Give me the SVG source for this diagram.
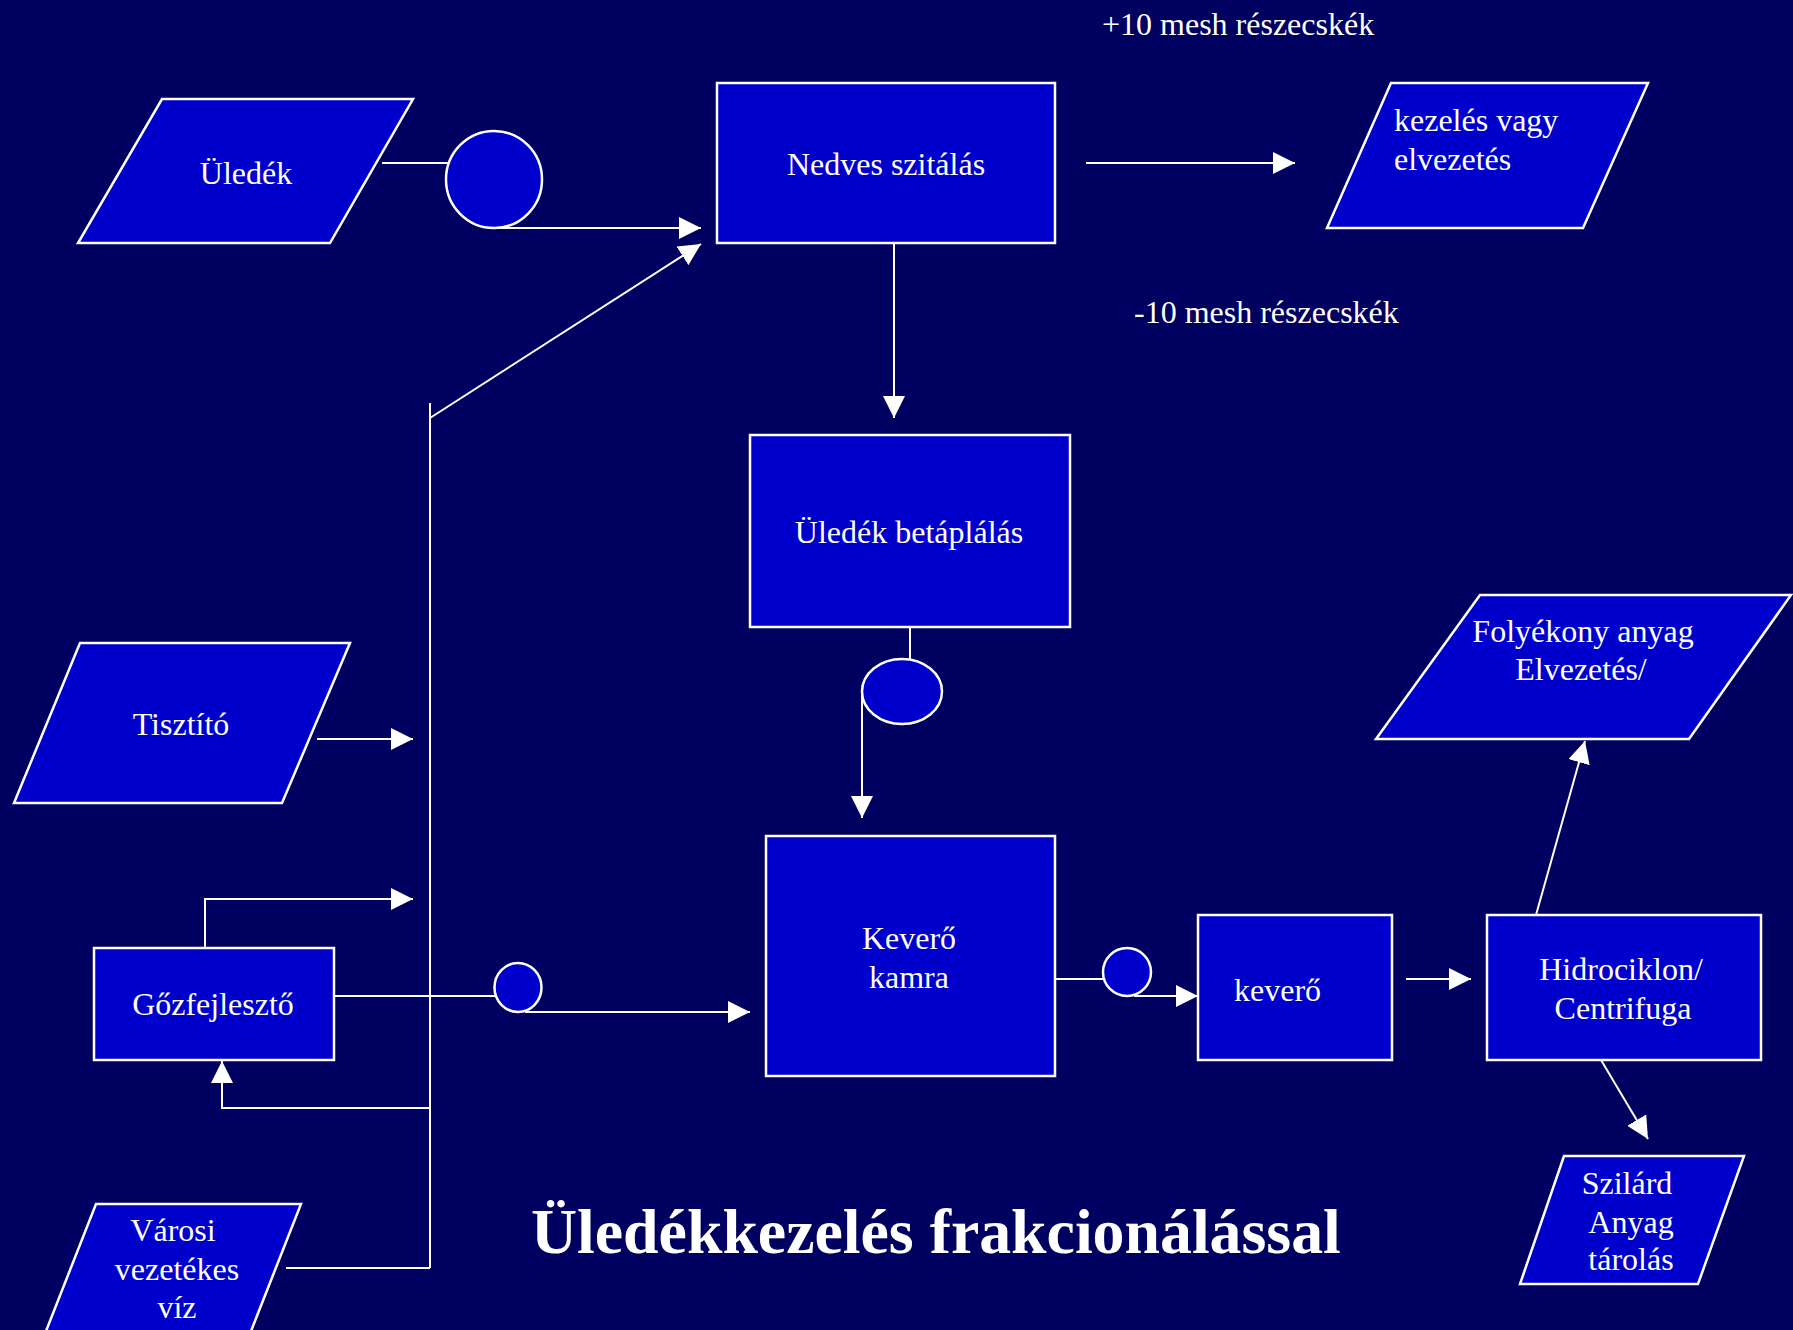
<svg xmlns="http://www.w3.org/2000/svg" width="1793" height="1330" viewBox="0 0 1793 1330">
<style>
.shape{fill:#0000CC;stroke:#FFFFFF;stroke-width:2.5}
.conn{fill:none;stroke:#FFFFFF;stroke-width:2}
.t{font-family:"Liberation Serif","Times New Roman",serif;font-size:32px;fill:#FFFFFF}
.m{text-anchor:middle}
.title{font-family:"Liberation Serif","Times New Roman",serif;font-size:63.8px;font-weight:bold;fill:#FFFFFF}
</style>
<defs>
<marker id="ah" markerUnits="userSpaceOnUse" markerWidth="22" markerHeight="22" viewBox="0 0 20 20" refX="20" refY="10" orient="auto">
<path d="M0,0 L20,10 L0,20 z" fill="#FFFFFF"/>
</marker>
</defs>
<rect x="0" y="0" width="1793" height="1330" fill="#000060"/>

<g id="connectors">
<line class="conn" x1="382" y1="163" x2="448" y2="163"/>
<line class="conn" x1="494" y1="228" x2="701" y2="228" marker-end="url(#ah)"/>
<polyline class="conn" points="430,1268 430,403"/>
<line class="conn" x1="430" y1="418" x2="701" y2="244" marker-end="url(#ah)"/>
<line class="conn" x1="894" y1="243" x2="894" y2="418" marker-end="url(#ah)"/>
<line class="conn" x1="1086" y1="163" x2="1295" y2="163" marker-end="url(#ah)"/>
<line class="conn" x1="910" y1="611" x2="910" y2="659"/>
<line class="conn" x1="862" y1="692" x2="862" y2="818" marker-end="url(#ah)"/>
<line class="conn" x1="317" y1="739" x2="413" y2="739" marker-end="url(#ah)"/>
<polyline class="conn" points="205,948 205,899 413,899" marker-end="url(#ah)"/>
<line class="conn" x1="334" y1="996" x2="510" y2="996"/>
<line class="conn" x1="525" y1="1012" x2="750" y2="1012" marker-end="url(#ah)"/>
<polyline class="conn" points="430,1108 222,1108 222,1061" marker-end="url(#ah)"/>
<line class="conn" x1="286" y1="1268" x2="430" y2="1268"/>
<line class="conn" x1="1055" y1="979" x2="1119" y2="979"/>
<line class="conn" x1="1134" y1="996" x2="1198" y2="996" marker-end="url(#ah)"/>
<line class="conn" x1="1406" y1="979" x2="1471" y2="979" marker-end="url(#ah)"/>
<line class="conn" x1="1536" y1="915" x2="1585" y2="741" marker-end="url(#ah)"/>
<line class="conn" x1="1601" y1="1060" x2="1648" y2="1139" marker-end="url(#ah)"/>
</g>

<g id="uledek">
<polygon class="shape" points="162,99 413,99 330,243 78,243"/>
<text class="t m" x="246" y="184">Üledék</text>
</g>
<g id="circle1"><ellipse class="shape" cx="494" cy="179.5" rx="48" ry="48.5"/></g>
<g id="nedves">
<rect class="shape" x="717" y="83" width="338" height="160"/>
<text class="t m" x="886" y="175">Nedves szitálás</text>
</g>
<g id="kezeles">
<polygon class="shape" points="1391,83 1648,83 1583,228 1327,228"/>
<text class="t" x="1394" y="131">kezelés vagy</text>
<text class="t" x="1394" y="170">elvezetés</text>
</g>
<g id="label-plus"><text class="t" x="1102" y="35">+10 mesh részecskék</text></g>
<g id="label-minus"><text class="t" x="1134" y="323">-10 mesh részecskék</text></g>
<g id="betaplalas">
<rect class="shape" x="750" y="435" width="320" height="192"/>
<text class="t m" x="909" y="543">Üledék betáplálás</text>
</g>
<g id="circle2"><ellipse class="shape" cx="902" cy="691.5" rx="40" ry="32.5"/></g>
<g id="tisztito">
<polygon class="shape" points="80,643 350,643 282,803 14,803"/>
<text class="t m" x="181" y="735">Tisztító</text>
</g>
<g id="folyekony">
<polygon class="shape" points="1480,595 1791,595 1689,739 1376,739"/>
<text class="t m" x="1583" y="642">Folyékony anyag</text>
<text class="t m" x="1581" y="680">Elvezetés/</text>
</g>
<g id="kevero-kamra">
<rect class="shape" x="766" y="836" width="289" height="240"/>
<text class="t m" x="909" y="949">Keverő</text>
<text class="t m" x="909" y="988">kamra</text>
</g>
<g id="gozfejleszto">
<rect class="shape" x="94" y="948" width="240" height="112"/>
<text class="t m" x="213" y="1015">Gőzfejlesztő</text>
</g>
<g id="circle3"><ellipse class="shape" cx="518" cy="987.5" rx="23.5" ry="24.5"/></g>
<g id="circle4"><ellipse class="shape" cx="1127" cy="972" rx="24" ry="24"/></g>
<g id="kevero">
<rect class="shape" x="1198" y="915" width="194" height="145"/>
<text class="t" x="1234" y="1001">keverő</text>
</g>
<g id="hidrociklon">
<rect class="shape" x="1487" y="915" width="274" height="145"/>
<text class="t m" x="1621" y="980">Hidrociklon/</text>
<text class="t m" x="1623" y="1019">Centrifuga</text>
</g>
<g id="szilard">
<polygon class="shape" points="1564,1156 1744,1156 1698,1284 1520,1284"/>
<text class="t m" x="1627" y="1194">Szilárd</text>
<text class="t m" x="1631" y="1233">Anyag</text>
<text class="t m" x="1631" y="1270">tárolás</text>
</g>
<g id="varosi">
<polygon class="shape" points="96,1204 301,1204 242,1354 37,1354"/>
<text class="t m" x="173" y="1241">Városi</text>
<text class="t m" x="177" y="1280">vezetékes</text>
<text class="t m" x="177" y="1318">víz</text>
</g>
<g id="title"><text class="title" x="531" y="1253">Üledékkezelés frakcionálással</text></g>
</svg>
